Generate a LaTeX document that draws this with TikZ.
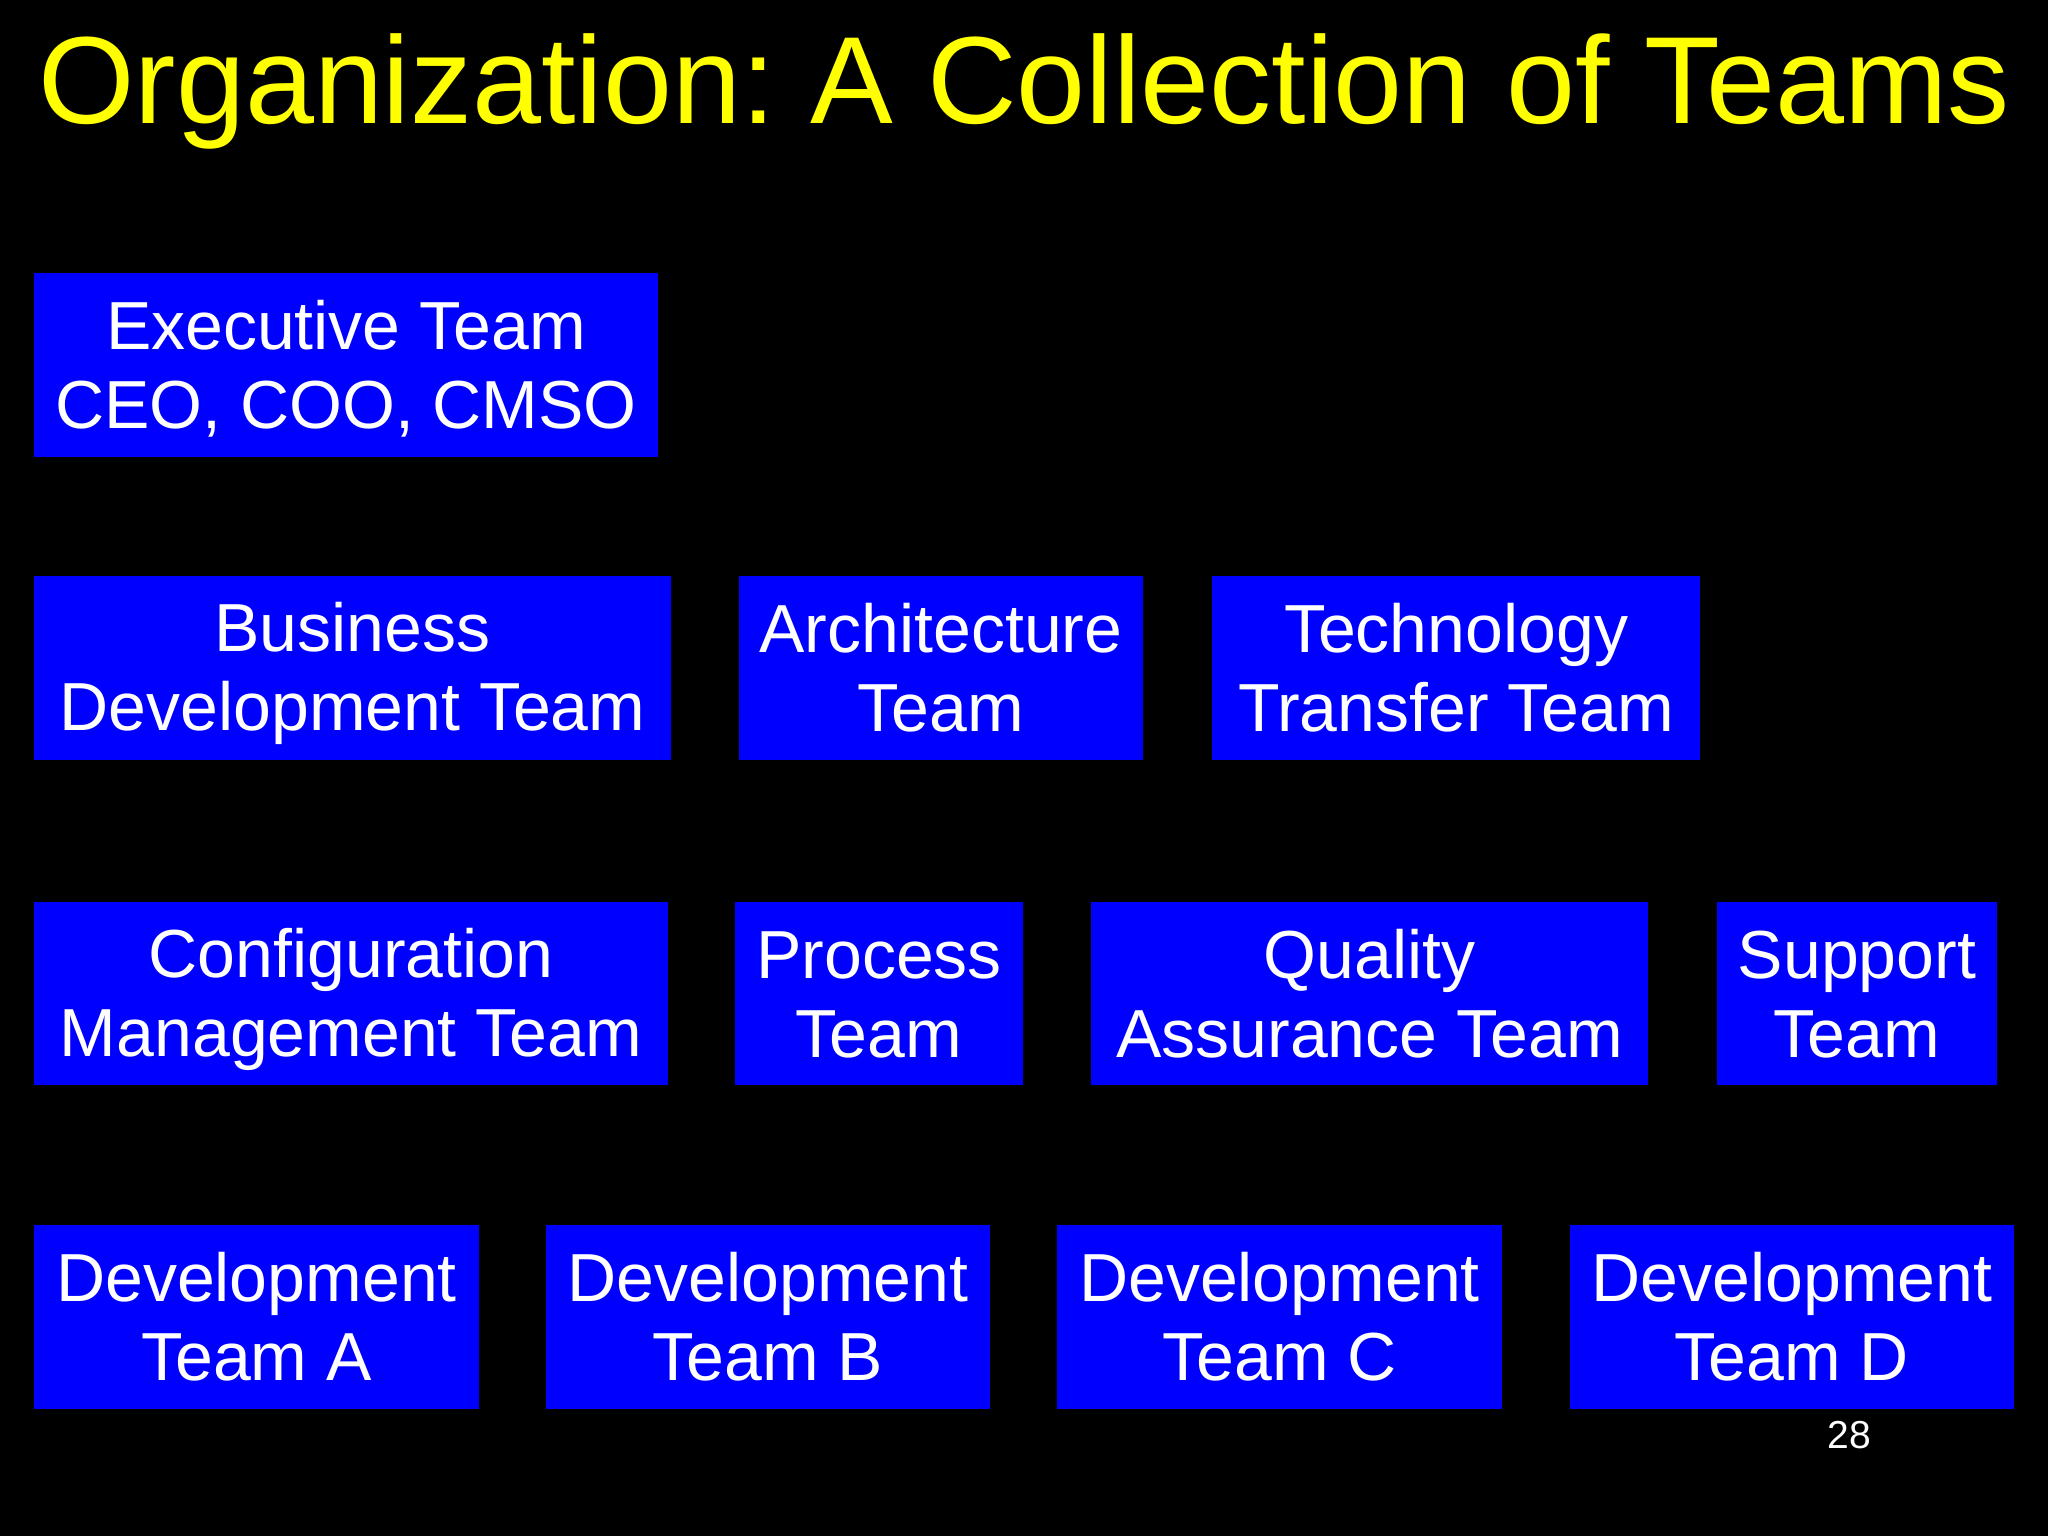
\documentclass[tikz,border=0pt]{standalone}
\usepackage{fontspec}
\setmainfont{Liberation Sans}
\definecolor{boxblue}{RGB}{0,0,255}
\definecolor{titleyellow}{RGB}{255,255,0}
\newcommand\tmstrut{\rule[-6pt]{0pt}{36.3pt}}
\frenchspacing
\begin{document}
\begin{tikzpicture}[x=0.5pt,y=-0.5pt,
  teambox/.style={fill=boxblue, text=white, inner sep=0pt, align=center,
    font=\fontsize{34pt}{39.5pt}\selectfont, anchor=center},
  rowa/.style={teambox, minimum height=92pt},
  rowb/.style={teambox, minimum height=91.5pt}]
\fill[black] (0,0) rectangle (2048,1536);
\useasboundingbox (0,0) rectangle (2048,1536);
\node (title) [anchor=base west, text=titleyellow, inner sep=0pt,
  font=\fontsize{62pt}{70pt}\selectfont] at (38,124) {Organization: A Collection of Teams};
% row 1
\node (exec) [rowa, minimum width=312pt] at (346,365) {\tmstrut Executive Team\\\tmstrut CEO, COO, CMSO};
% row 2
\node (bus) [rowa, minimum width=318.5pt] at (352.5,668) {\tmstrut Business\\\tmstrut Development Team};
\node (arch) [rowa, minimum width=202pt] at (941,668) {\tmstrut Architecture\\\tmstrut Team};
\node (tech) [rowa, minimum width=244pt] at (1456,668) {\tmstrut Technology\\\tmstrut Transfer Team};
% row 3
\node (conf) [rowb, minimum width=317pt] at (351,993.5) {\tmstrut Configuration\\\tmstrut Management Team};
\node (proc) [rowb, minimum width=144pt] at (879,993.5) {\tmstrut Process\\\tmstrut Team};
\node (qual) [rowb, minimum width=278.5pt] at (1369.5,993.5) {\tmstrut Quality\\\tmstrut Assurance Team};
\node (supp) [rowb, minimum width=140pt] at (1857,993.5) {\tmstrut Support\\\tmstrut Team};
% row 4
\node (deva) [rowa, minimum width=222.5pt] at (256.5,1317) {\tmstrut Development\\\tmstrut Team A};
\node (devb) [rowa, minimum width=222pt] at (768,1317) {\tmstrut Development\\\tmstrut Team B};
\node (devc) [rowa, minimum width=222.5pt] at (1279.5,1317) {\tmstrut Development\\\tmstrut Team C};
\node (devd) [rowa, minimum width=222pt] at (1792,1317) {\tmstrut Development\\\tmstrut Team D};
% page number
\node (pagenum) [anchor=base west, text=white, inner sep=0pt,
  font=\fontsize{19.5pt}{22pt}\selectfont] at (1827,1448) {28};
\end{tikzpicture}
\end{document}
